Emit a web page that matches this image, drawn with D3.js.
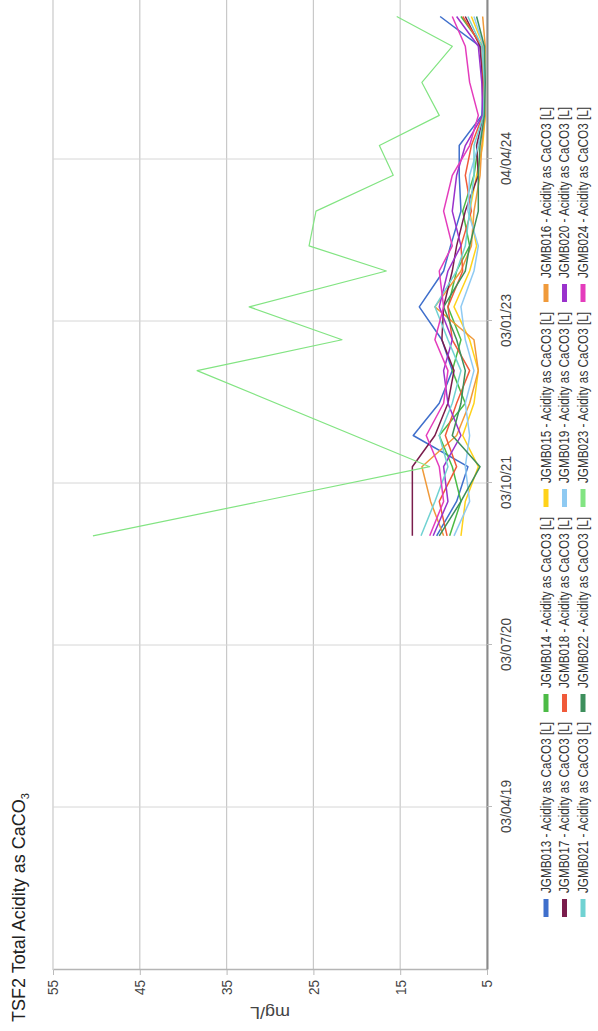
<!DOCTYPE html>
<html>
<head>
<meta charset="utf-8">
<script src="https://cdn.jsdelivr.net/npm/d3@7"></script>
<style>
  body { margin: 0; background: #fff; }
  svg { display: block; }
</style>
</head>
<body>
<svg id="chart" width="598" height="1031"></svg>
<script>
// sample dates shared by the bores
var sampleDates = ["2021-05-07", "2021-08-12", "2021-11-18", "2022-02-14", "2022-05-16",
  "2022-08-16", "2022-11-11", "2023-02-12", "2023-05-24", "2023-08-03", "2023-11-09",
  "2024-02-18", "2024-05-12", "2024-08-05", "2024-11-06", "2025-02-16", "2025-05-11"];

var seriesNames = ["JGMB013", "JGMB014", "JGMB015", "JGMB016", "JGMB017", "JGMB018",
  "JGMB019", "JGMB020", "JGMB021", "JGMB022", "JGMB023", "JGMB024"];
var seriesColors = ["#3f6fcc", "#4cbb46", "#ffd21a", "#f09a3a", "#7a1d4c", "#f05a3a",
  "#8fcaf2", "#9a32cc", "#70d2d2", "#3d8f5c", "#82e482", "#e43cbc"];

// mg/L, one value per sample date (null = not sampled)
var jgmb013 = [10.8, 8.5, 7.2, 13.5, 10.5, 9.0, 10.2, 12.8, 10.0, 9.2, 8.0, 8.2, 8.2, 5.6, 5.4, 5.8, 10.4];
var jgmb014 = [9.3, 8.0, 9.0, 10.5, 7.5, 9.0, 8.0, 9.5, 8.5, 7.0, 7.8, 6.5, 6.0, 5.3, 5.2, 5.5, 8.0];
var jgmb015 = [8.0, 7.5, 6.0, 7.8, 6.5, 6.0, 7.0, 8.8, 7.0, 6.2, 7.0, 6.2, 5.5, 5.2, 5.2, 5.4, 6.8];
var jgmb016 = [10.0, 11.5, 12.5, 8.5, 7.0, 6.0, 6.5, 11.0, 8.0, 6.8, 6.5, 5.8, 5.6, 5.2, 5.3, 5.2, 5.5];
var jgmb017 = [13.6, 13.6, 13.6, 11.0, 9.5, 8.8, 10.2, 10.0, 9.0, 8.5, 7.5, 6.0, 6.2, 5.4, 5.5, 5.8, 7.5];
var jgmb018 = [9.6, 10.5, 8.5, 9.8, 8.5, 7.0, 9.0, 9.5, 7.8, 8.0, 6.8, 7.5, 6.8, 5.5, 5.4, 5.6, 7.8];
var jgmb019 = [8.8, 7.0, 7.5, 7.0, 7.5, 6.5, 7.5, 8.0, 6.5, 6.0, 7.2, 7.0, 6.0, 5.3, 5.2, 5.4, 6.5];
var jgmb020 = [11.2, 9.5, 10.0, 8.0, 9.5, 10.0, 9.0, 10.5, 9.5, 8.0, 9.0, 8.5, 7.5, 5.5, 5.6, 6.0, 8.5];
var jgmb021 = [12.6, 11.0, 9.5, 10.5, 9.0, 8.0, 9.5, 11.0, 8.5, 7.5, 7.0, 6.5, 6.5, 5.4, 5.3, 5.6, 7.2];
var jgmb022 = [10.5, 8.0, 5.8, 9.0, 8.0, 7.5, 8.5, 10.0, 7.5, 7.0, 6.0, 6.0, 5.8, 5.3, 5.2, 5.3, 6.2];
var jgmb023 = [50.4, null, 11.6, null, null, 38.4, 21.7, 32.4, 16.6, 25.5, 24.7, 15.8, 17.4, 10.5, 12.5, 9.0, 15.4];
var jgmb024 = [11.6, 10.0, 10.5, 12.0, 10.0, 9.5, 11.0, 10.0, 10.5, 9.0, 10.0, 9.0, 7.0, 6.0, 7.0, 7.5, 9.0];

var valueTicks = [55, 45, 35, 25, 15, 5];
var dateTicks = ["2019-04-03", "2020-07-03", "2021-10-03", "2023-01-03", "2024-04-04"];
var dateTickLabels = ["03/04/19", "03/07/20", "03/10/21", "03/01/23", "04/04/24"];

var allSeries = [jgmb013, jgmb014, jgmb015, jgmb016, jgmb017, jgmb018,
  jgmb019, jgmb020, jgmb021, jgmb022, jgmb023, jgmb024];

var parseDay = d3.timeParse("%Y-%m-%d");

// the chart is laid out 1031 wide x 598 tall, then turned a quarter turn
var W = 1031, H = 598;
var plot = {left: 61, right: 1031, top: 53, bottom: 487};

var svg = d3.select("#chart");
var g = svg.append("g")
    .attr("transform", "translate(0," + W + ") rotate(-90)");

var y = d3.scaleLinear().domain([5, 55]).range([plot.bottom, plot.top]);

// place the first/last labelled dates, then stretch the domain to the plot edges
var tickDates = dateTicks.map(parseDay);
var xRef = d3.scaleTime()
    .domain([tickDates[0], tickDates[tickDates.length - 1]])
    .range([224, 872]);
var x = d3.scaleTime()
    .domain([xRef.invert(plot.left), xRef.invert(plot.right)])
    .range([plot.left, plot.right]);

// grid
g.append("g")
  .selectAll("line")
  .data(valueTicks)
  .enter().append("line")
    .attr("x1", plot.left).attr("x2", plot.right)
    .attr("y1", function(d) { return y(d); })
    .attr("y2", function(d) { return y(d); })
    .attr("stroke", "#c9c9c9")
    .attr("stroke-width", 1.2);

g.append("g")
  .selectAll("line")
  .data(tickDates)
  .enter().append("line")
    .attr("x1", function(d) { return x(d); })
    .attr("x2", function(d) { return x(d); })
    .attr("y1", plot.top).attr("y2", plot.bottom)
    .attr("stroke", "#d6d6d6")
    .attr("stroke-width", 1);

// value axis
var yAxis = g.append("g")
    .attr("transform", "translate(" + plot.left + ",0)")
    .call(d3.axisLeft(y).tickValues(valueTicks).tickSize(5).tickPadding(5).tickSizeOuter(0));
yAxis.select(".domain").attr("stroke", "#b5b5b5").attr("stroke-width", 1.5);
yAxis.selectAll(".tick line").attr("stroke", "#bbb");
yAxis.selectAll(".tick text")
    .attr("fill", "#444")
    .style("font-family", "'Liberation Sans Narrow', 'Liberation Sans', Arial, sans-serif")
    .style("font-size", "15px")
    .attr("textLength", function(d) { return String(d).length * 7.5; })
    .attr("lengthAdjust", "spacingAndGlyphs");

// date axis
var xAxis = g.append("g")
    .attr("transform", "translate(0," + plot.bottom + ")")
    .call(d3.axisBottom(x).tickValues(tickDates).tickSize(5).tickPadding(8).tickSizeOuter(0)
      .tickFormat(function(d, i) { return dateTickLabels[i]; }));
xAxis.select(".domain").attr("stroke", "#8a8a8a").attr("stroke-width", 2);
xAxis.selectAll(".tick line").attr("stroke", "#bbb");
xAxis.selectAll(".tick text")
    .attr("fill", "#444")
    .style("font-family", "'Liberation Sans Narrow', 'Liberation Sans', Arial, sans-serif")
    .style("font-size", "15px")
    .attr("textLength", 53)
    .attr("lengthAdjust", "spacingAndGlyphs");

// series
var line = d3.line()
    .x(function(d) { return x(d.date); })
    .y(function(d) { return y(d.value); });

allSeries.forEach(function(vals, i) {
  var pts = [];
  vals.forEach(function(v, j) {
    if (v != null) pts.push({date: parseDay(sampleDates[j]), value: v});
  });
  g.append("path")
      .datum(pts)
      .attr("fill", "none")
      .attr("stroke", seriesColors[i])
      .attr("stroke-width", i == 10 ? 1.2 : 1.5)
      .attr("stroke-linejoin", "round")
      .attr("d", line);
});

// title
var title = g.append("text")
    .attr("x", 9).attr("y", 25)
    .attr("fill", "#222")
    .style("font-family", "'Liberation Sans', Arial, sans-serif")
    .style("font-size", "18px")
    .text("TSF2 Total Acidity as CaCO");
title.append("tspan")
    .attr("dy", 4)
    .style("font-size", "11px")
    .text("3");

// y title
g.append("text")
    .attr("transform", "translate(24," + ((plot.top + plot.bottom) / 2) + ") rotate(-90)")
    .attr("text-anchor", "middle")
    .attr("fill", "#444")
    .style("font-family", "'Liberation Sans', Arial, sans-serif")
    .style("font-size", "17px")
    .attr("textLength", 40)
    .attr("lengthAdjust", "spacingAndGlyphs")
    .text("mg/L");

// legend
var legend = g.append("g")
  .selectAll("g")
  .data(seriesNames)
  .enter().append("g")
    .attr("transform", function(d, i) {
      return "translate(" + (114 + (i % 4) * 205) + "," + (546 + Math.floor(i / 4) * 18.5) + ")";
    });

legend.append("rect")
    .attr("x", 0).attr("y", -2.5)
    .attr("width", 18).attr("height", 5)
    .attr("fill", function(d, i) { return seriesColors[i]; });

legend.append("text")
    .attr("x", 24).attr("y", 0)
    .attr("dy", "0.35em")
    .attr("fill", "#333")
    .style("font-family", "'Liberation Sans Narrow', 'Liberation Sans', Arial, sans-serif")
    .style("font-size", "14px")
    .attr("textLength", 171)
    .attr("lengthAdjust", "spacingAndGlyphs")
    .text(function(d) { return d + " - Acidity as CaCO3 [L]"; });
</script>
</body>
</html>
